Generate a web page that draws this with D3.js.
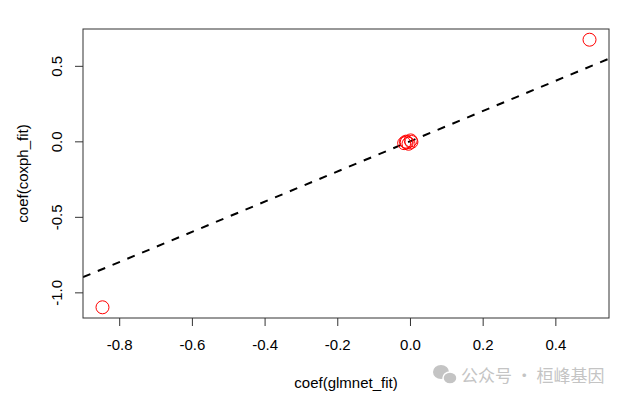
<!DOCTYPE html>
<html>
<head>
<meta charset="utf-8">
<script src="https://cdn.jsdelivr.net/npm/d3@7"></script>
<style>
  body { margin: 0; background: #fff; }
  svg { font-family: "Liberation Sans", Arial, sans-serif; }
</style>
</head>
<body>
<div id="chart"></div>
<script>
// coefficients, glmnet vs coxph
const glmnetCoef = [-0.846, 0.494, -0.016, -0.009, -0.004, 0.002, 0.004, -0.011];
const coxphCoef = [-1.099, 0.673, -0.012, -0.007, -0.016, 0.006, -0.004, -0.002];
const xTicks = [-0.8, -0.6, -0.4, -0.2, 0.0, 0.2, 0.4];
const yTicks = [-1.0, -0.5, 0.0, 0.5];

const drawChart = () => {
  const dataset = glmnetCoef.map((x, i) => ({ x, y: coxphCoef[i] }));
  const xAccessor = (d) => d.x;
  const yAccessor = (d) => d.y;

  let dimensions = {
    width: 622,
    height: 396,
    margin: { top: 29, right: 13, bottom: 78, left: 83 },
    ctrWidth: 0,
    ctrHeight: 0,
  };
  dimensions.ctrWidth =
    dimensions.width - dimensions.margin.left - dimensions.margin.right;
  dimensions.ctrHeight =
    dimensions.height - dimensions.margin.top - dimensions.margin.bottom;

  const svg = d3
    .select("#chart")
    .append("svg")
    .attr("width", dimensions.width)
    .attr("height", dimensions.height);

  const ctr = svg
    .append("g")
    .attr(
      "transform",
      `translate(${dimensions.margin.left},${dimensions.margin.top})`
    );

  // R style 4% padding around data range
  const pad = (ext) => {
    const r = ext[1] - ext[0];
    return [ext[0] - 0.04 * r, ext[1] + 0.04 * r];
  };

  const xScale = d3
    .scaleLinear()
    .domain(pad(d3.extent(dataset, xAccessor)))
    .range([0, dimensions.ctrWidth]);

  const yScale = d3
    .scaleLinear()
    .domain(pad(d3.extent(dataset, yAccessor)))
    .range([dimensions.ctrHeight, 0]);

  // clip for the reference line
  ctr
    .append("clipPath")
    .attr("id", "clip")
    .append("rect")
    .attr("width", dimensions.ctrWidth)
    .attr("height", dimensions.ctrHeight);

  // abline(0, 1)
  const xd = xScale.domain();
  ctr
    .append("line")
    .attr("clip-path", "url(#clip)")
    .attr("x1", xScale(xd[0]))
    .attr("y1", yScale(xd[0]))
    .attr("x2", xScale(xd[1]))
    .attr("y2", yScale(xd[1]))
    .attr("stroke", "black")
    .attr("stroke-width", 2)
    .attr("stroke-dasharray", "8,8");

  // points
  ctr
    .selectAll("circle")
    .data(dataset)
    .join("circle")
    .attr("cx", (d) => xScale(xAccessor(d)))
    .attr("cy", (d) => yScale(yAccessor(d)))
    .attr("r", 6.5)
    .attr("fill", "none")
    .attr("stroke", "red")
    .attr("stroke-width", 1);

  // box
  ctr
    .append("rect")
    .attr("width", dimensions.ctrWidth)
    .attr("height", dimensions.ctrHeight)
    .attr("fill", "none")
    .attr("stroke", "#333");

  // R prints a plain hyphen for negatives
  const fmt = (d) => d.toFixed(1);

  // Axes
  const xAxis = d3
    .axisBottom(xScale)
    .tickValues(xTicks)
    .tickSize(8)
    .tickPadding(13)
    .tickFormat(fmt);
  const xAxisGroup = ctr
    .append("g")
    .attr("transform", `translate(0,${dimensions.ctrHeight})`)
    .call(xAxis);
  xAxisGroup.select(".domain").remove();
  xAxisGroup.selectAll("line").attr("stroke", "#333");
  xAxisGroup
    .selectAll("text")
    .attr("fill", "black")
    .style("font-size", "15px")
    .attr("font-family", null);

  const yAxis = d3
    .axisLeft(yScale)
    .tickValues(yTicks)
    .tickSize(8)
    .tickFormat(fmt);
  const yAxisGroup = ctr.append("g").call(yAxis);
  yAxisGroup.select(".domain").remove();
  yAxisGroup.selectAll("line").attr("stroke", "#333");
  yAxisGroup
    .selectAll("text")
    .attr("x", null)
    .attr("dy", null)
    .attr("fill", "black")
    .attr("font-family", null)
    .style("font-size", "15px")
    .attr("text-anchor", "middle")
    .attr("transform", "translate(-21,0) rotate(-90)");

  // axis titles
  svg
    .append("text")
    .attr("x", dimensions.margin.left + dimensions.ctrWidth / 2)
    .attr("y", 388)
    .attr("text-anchor", "middle")
    .style("font-size", "15px")
    .text("coef(glmnet_fit)");

  svg
    .append("text")
    .attr(
      "transform",
      `translate(28,${dimensions.margin.top + dimensions.ctrHeight / 2}) rotate(-90)`
    )
    .attr("text-anchor", "middle")
    .style("font-size", "15px")
    .text("coef(coxph_fit)");

  // watermark
  const wm = svg.append("g").attr("fill", "#c4c4c4");
  wm.append("ellipse").attr("cx", 441).attr("cy", 372).attr("rx", 8).attr("ry", 7);
  wm.append("ellipse").attr("cx", 450).attr("cy", 378).attr("rx", 7).attr("ry", 6)
    .attr("stroke", "white").attr("stroke-width", 1.5);
  wm.append("text")
    .attr("x", 461)
    .attr("y", 382)
    .style("font-family", "'Noto Sans CJK SC', sans-serif")
    .style("font-size", "17px")
    .text("公众号 · 桓峰基因");
};

drawChart();
</script>
</body>
</html>
